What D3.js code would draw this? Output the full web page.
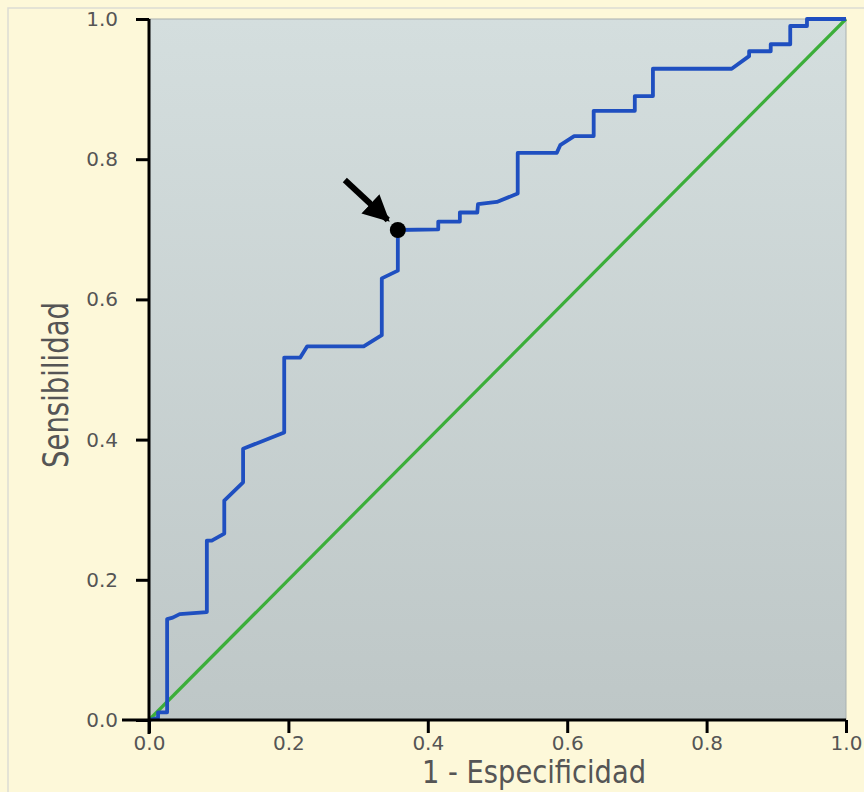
<!DOCTYPE html>
<html>
<head>
<meta charset="utf-8">
<script src="https://cdn.jsdelivr.net/npm/d3@7"></script>
<style>
  html, body { margin: 0; padding: 0; background: #fdf8d9; }
  svg { display: block; }
  text { font-family: "DejaVu Sans Condensed", "DejaVu Sans", sans-serif; fill: #555; }
  .tick text { font-family: "DejaVu Sans", sans-serif; }
</style>
</head>
<body>
<svg id="chart" width="864" height="792"></svg>
<script>
// ROC curve points (1 - specificity, sensitivity)
const fpr = [0, 0.013, 0.013, 0.026, 0.026, 0.034, 0.044, 0.083, 0.083, 0.090, 0.108, 0.108,
  0.135, 0.135, 0.194, 0.194, 0.217, 0.227, 0.308, 0.334, 0.334, 0.357, 0.357, 0.415, 0.415,
  0.446, 0.446, 0.471, 0.472, 0.499, 0.529, 0.529, 0.585, 0.590, 0.610, 0.638, 0.638, 0.697,
  0.697, 0.723, 0.723, 0.836, 0.861, 0.861, 0.892, 0.892, 0.920, 0.920, 0.944, 0.944, 1]
const tpr = [0, 0.003, 0.011, 0.011, 0.144, 0.146, 0.151, 0.154, 0.256, 0.256, 0.266, 0.313,
  0.339, 0.387, 0.410, 0.517, 0.517, 0.533, 0.533, 0.549, 0.630, 0.641, 0.699, 0.700, 0.711,
  0.711, 0.724, 0.724, 0.736, 0.739, 0.751, 0.809, 0.809, 0.820, 0.833, 0.833, 0.869, 0.869,
  0.890, 0.890, 0.929, 0.929, 0.947, 0.954, 0.954, 0.964, 0.964, 0.990, 0.990, 1.0, 1]
const diagonal = [0, 1]
const ticks = [0, 0.2, 0.4, 0.6, 0.8, 1.0]
const cutoffIndex = 22   // marked cut-off point
const xTitle = '1 - Especificidad'
const yTitle = 'Sensibilidad'

const svg = d3.select('#chart')
const mLeft = 149, mRight = 846, mTop = 19, mBottom = 720

const x = d3.scaleLinear().domain([0, 1]).range([mLeft, mRight])
const y = d3.scaleLinear().domain([0, 1]).range([mBottom, mTop])

// outer frame
svg.append('rect').attr('x', 8).attr('y', 8).attr('width', 880).attr('height', 800)
    .attr('fill', '#fdf8d9').attr('stroke', '#dcdcd4').attr('stroke-width', 1.5)

const defs = svg.append('defs')
const grad = defs.append('linearGradient').attr('id', 'bg').attr('x1', 0).attr('y1', 0).attr('x2', 0).attr('y2', 1)
grad.append('stop').attr('offset', '0%').attr('stop-color', '#d4dede')
grad.append('stop').attr('offset', '100%').attr('stop-color', '#bec7c7')

svg.append('rect')
    .attr('x', x(0)).attr('y', y(1))
    .attr('width', x(1) - x(0)).attr('height', y(0) - y(1))
    .attr('fill', 'url(#bg)')
    .attr('stroke', '#a9b0b0').attr('stroke-width', 1)

// reference diagonal
svg.append('line')
    .attr('x1', x(diagonal[0])).attr('y1', y(diagonal[0]))
    .attr('x2', x(diagonal[1])).attr('y2', y(diagonal[1]))
    .attr('stroke', '#3cae3a').attr('stroke-width', 3.2)

// ROC curve
const pts = fpr.map((d, i) => [d, tpr[i]])
svg.append('path')
    .datum(pts)
    .attr('fill', 'none')
    .attr('stroke', '#1f4fc0')
    .attr('stroke-width', 3.8)
    .attr('stroke-linejoin', 'round')
    .attr('d', d3.line().x(d => x(d[0])).y(d => y(d[1])))

// axes
const xAxis = svg.append('g').attr('transform', `translate(0,${mBottom})`)
    .call(d3.axisBottom(x).tickValues(ticks).tickFormat(d3.format('.1f')).tickSize(13).tickPadding(3))
const yAxis = svg.append('g').attr('transform', `translate(${mLeft},0)`)
    .call(d3.axisLeft(y).tickValues(ticks).tickFormat(d3.format('.1f')).tickSize(13).tickPadding(18))
;[xAxis, yAxis].forEach(g => {
    g.select('.domain').remove()
    g.selectAll('line').attr('stroke', '#000').attr('stroke-width', 3)
    g.selectAll('text').attr('font-size', 20).attr('fill', '#5e5e5e')
})
svg.append('line').attr('x1', mLeft - 27).attr('x2', mRight).attr('y1', mBottom).attr('y2', mBottom)
    .attr('stroke', '#000').attr('stroke-width', 3)
svg.append('line').attr('x1', mLeft).attr('x2', mLeft).attr('y1', mTop).attr('y2', mBottom + 14)
    .attr('stroke', '#000').attr('stroke-width', 3)

// titles
svg.append('text').attr('x', 534).attr('y', 783)
    .attr('text-anchor', 'middle').attr('font-size', 32)
    .attr('textLength', 224).attr('lengthAdjust', 'spacingAndGlyphs')
    .text(xTitle)
svg.append('text').attr('transform', `translate(68,385) rotate(-90)`)
    .attr('text-anchor', 'middle').attr('font-size', 35)
    .attr('textLength', 166).attr('lengthAdjust', 'spacingAndGlyphs')
    .text(yTitle)

// marked point + arrow
const cx = x(fpr[cutoffIndex]), cy = y(tpr[cutoffIndex])
defs.append('marker').attr('id', 'head').attr('viewBox', '0 0 10 10')
    .attr('refX', 9).attr('refY', 5).attr('markerWidth', 4.4).attr('markerHeight', 4.4)
    .attr('orient', 'auto')
    .append('path').attr('d', 'M0,0 L10,5 L0,10 Z').attr('fill', '#000')
svg.append('line')
    .attr('x1', cx - 53).attr('y1', cy - 50)
    .attr('x2', cx - 10).attr('y2', cy - 10)
    .attr('stroke', '#000').attr('stroke-width', 6)
    .attr('marker-end', 'url(#head)')
svg.append('circle').attr('cx', cx).attr('cy', cy).attr('r', 8).attr('fill', '#000')
</script>
</body>
</html>
